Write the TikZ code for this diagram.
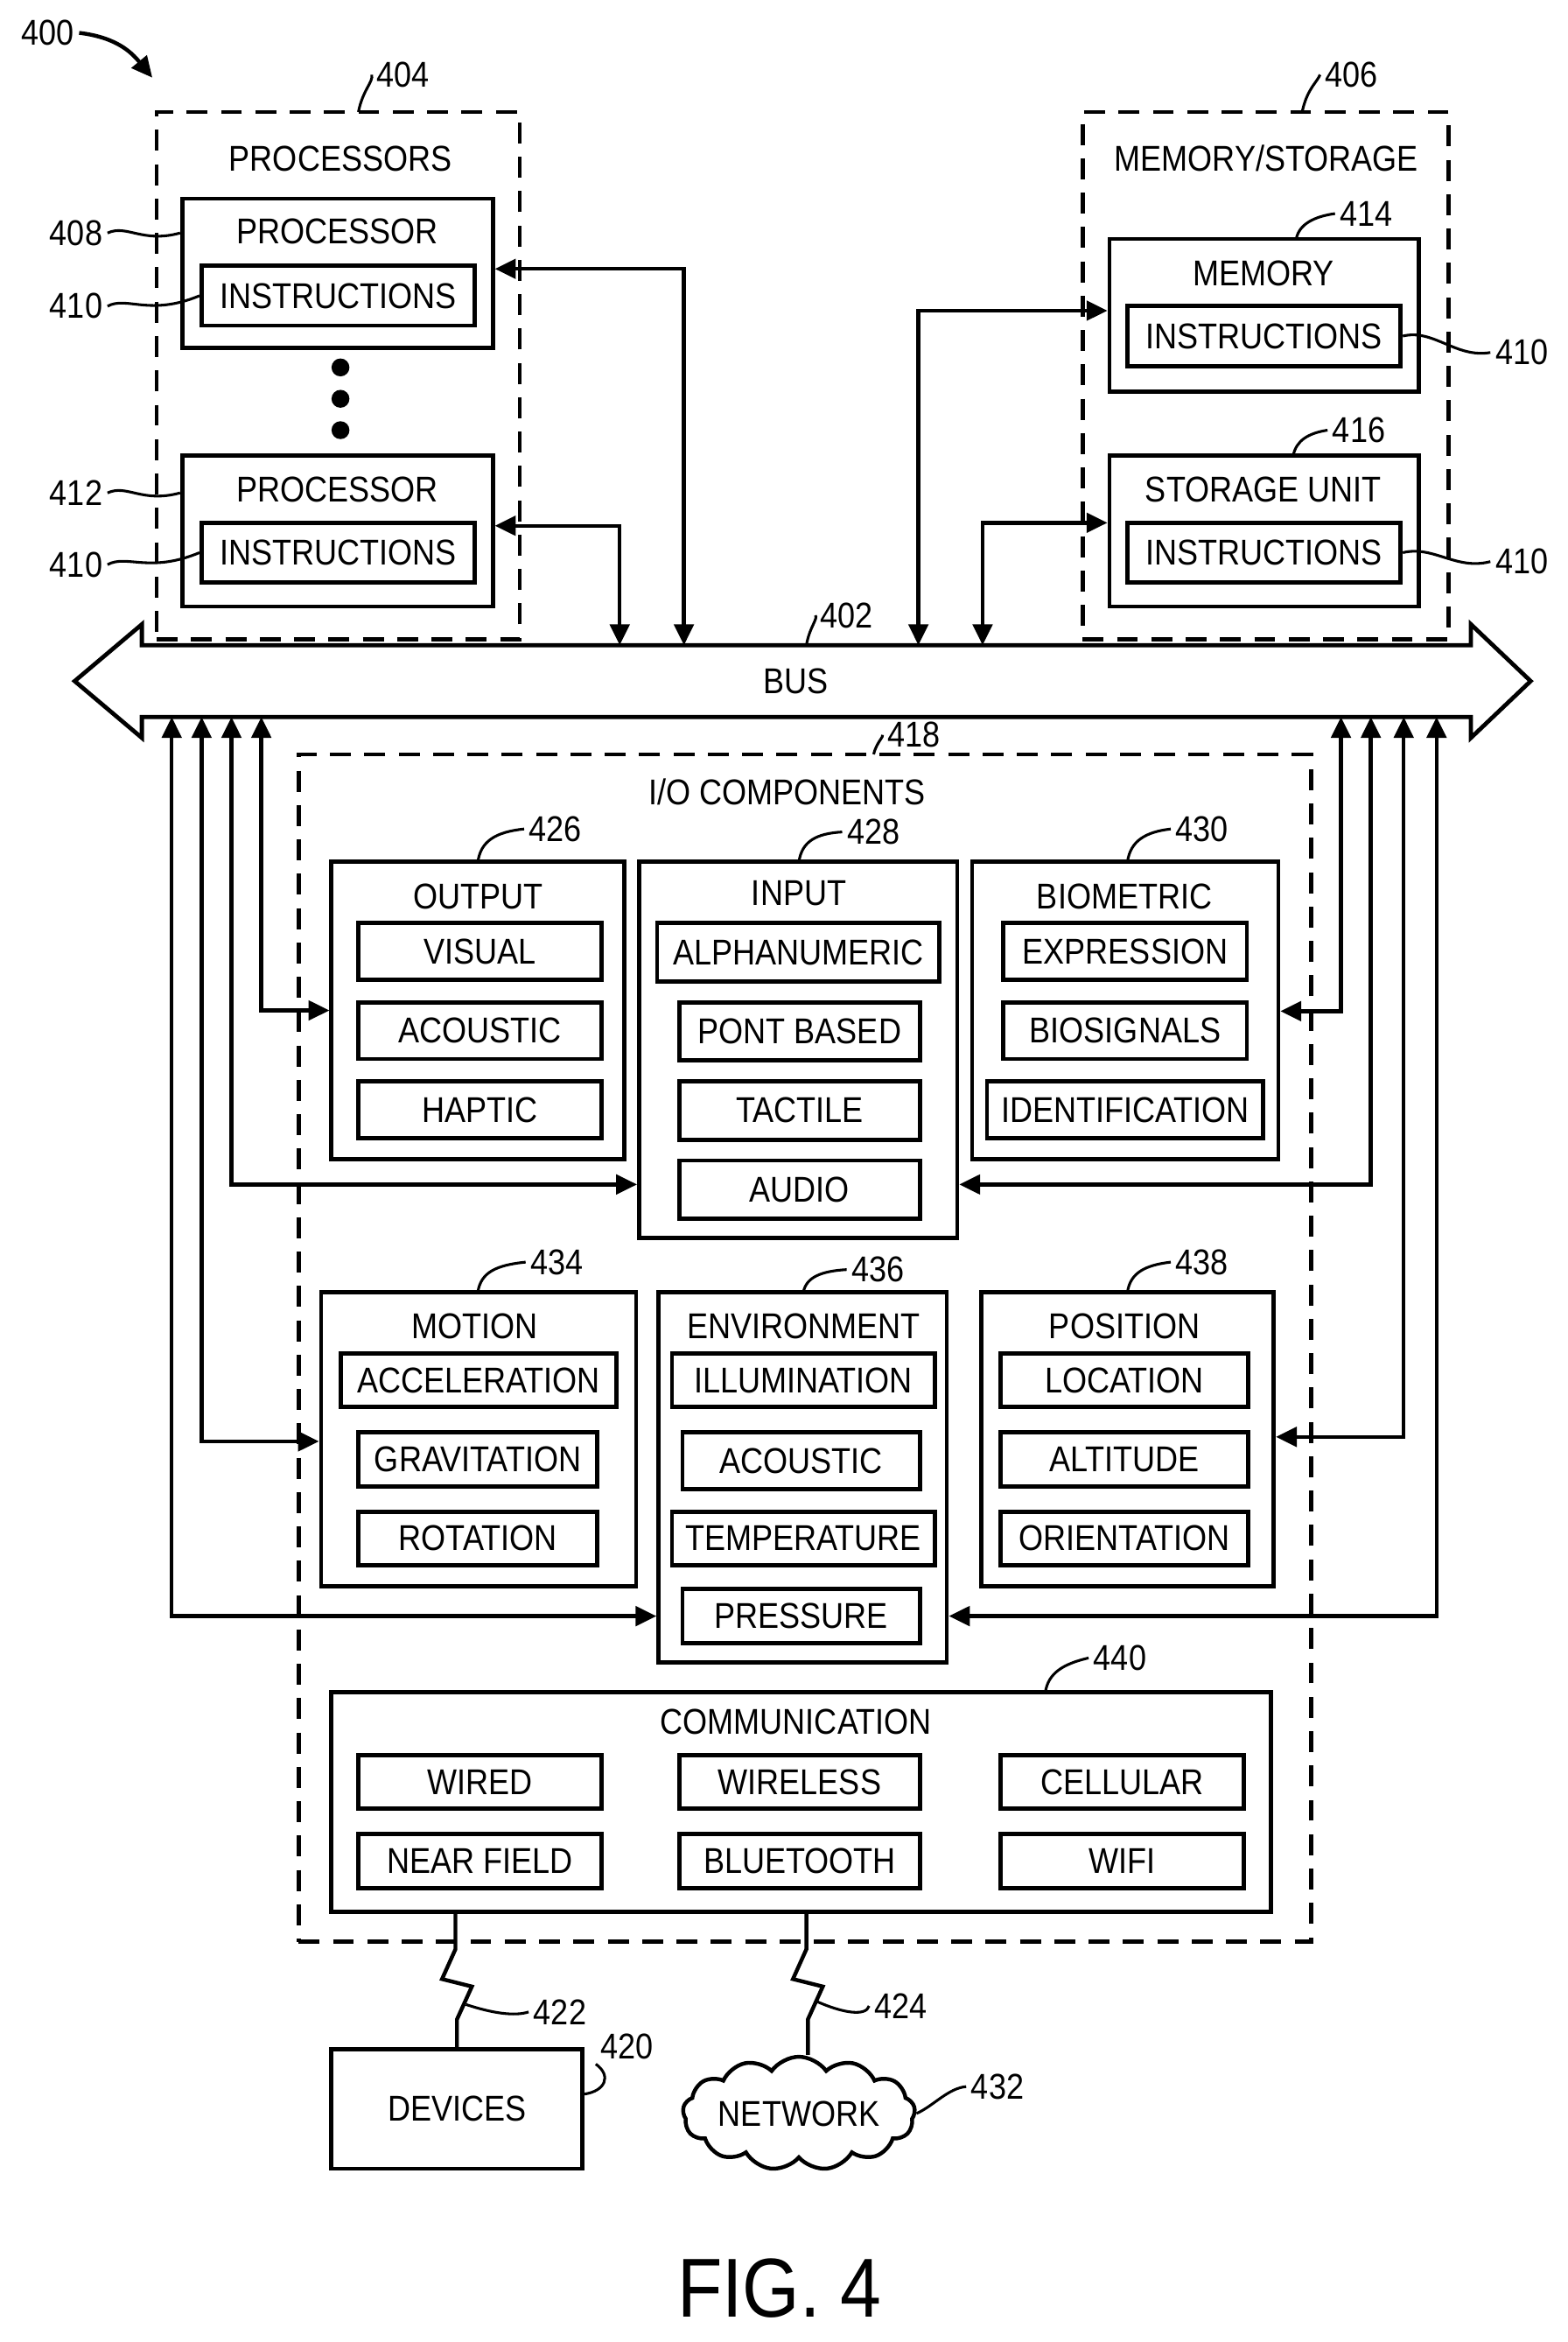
\documentclass[tikz,border=0pt]{standalone}
\usepackage{fontspec}
\setmainfont[FakeStretch=0.88]{Liberation Sans}
\usetikzlibrary{arrows.meta,shapes.symbols}
\newcommand\bx[7][box]{\node[#1,minimum width={(#5-#3)*0.5pt},minimum height={(#6-#4)*0.5pt}] (#2) at ({(#3+#5)/2},{(#4+#6)/2}) {#7};}
\begin{document}
\begin{tikzpicture}[x=0.5pt,y=-0.5pt,
  box/.style={draw,line width=1.4pt,inner sep=0pt,font=\fontsize{12}{12}\selectfont},
  dbox/.style={draw,line width=1.3pt,dash pattern=on 7pt off 4.5pt,inner sep=0pt},
  t/.style={font=\fontsize{12}{12}\selectfont,inner sep=0pt},
  lab/.style={font=\fontsize{12}{12}\selectfont,inner sep=1.5pt},
  lead/.style={line width=0.9pt},
  arr/.style={line width=1.3pt,{Triangle[length=7pt,width=6.5pt]}-{Triangle[length=7pt,width=6.5pt]}},
  tip/.style={line width=1.3pt,-{Triangle[length=7pt,width=6.5pt]}}]
\useasboundingbox (0,0) rectangle (1050,1568);
% 400
\node[lab] (n400) at (32,22) {400};
\coordinate (a400) at (102,52);
\draw[tip] (n400.east) .. controls (78,25) and (88,35) .. (a400);
% processors
\bx[dbox]{procs}{105}{75}{348}{428}{}
\node[t] (tprocs) at (228,106) {PROCESSORS};
\node[lab] (n404) at (270,50) {404};
\draw[lead] (240,75) .. controls (243,60) and (250,55) .. (n404.west);
\bx{p1}{122}{133}{330}{233}{}
\node[t] (tp1) at (226,155) {PROCESSOR};
\bx{i1}{135}{178}{318}{218}{INSTRUCTIONS}
\foreach \yy/\nm in {246/d1,267/d2,288/d3}{\node[circle,fill,inner sep=0pt,minimum size=6pt] (\nm) at (228,\yy) {};}
\bx{p2}{122}{305}{330}{406}{}
\node[t] (tp2) at (226,328) {PROCESSOR};
\bx{i2}{135}{350}{318}{390}{INSTRUCTIONS}
\node[lab,anchor=east] (n408) at (72,156) {408};
\node[lab,anchor=east] (n410a) at (72,205) {410};
\node[lab,anchor=east] (n412) at (72,330) {412};
\node[lab,anchor=east] (n410b) at (72,378) {410};
\draw[lead] (n408.east) .. controls (85,150) and (95,163) .. (p1.west |- 0,156);
\draw[lead] (n410a.east) .. controls (85,198) and (100,212) .. (i1.west);
\draw[lead] (n412.east) .. controls (85,324) and (95,337) .. (p2.west |- 0,330);
\draw[lead] (n410b.east) .. controls (85,371) and (100,384) .. (i2.west);
% memory/storage
\bx[dbox]{mems}{725}{75}{970}{428}{}
\node[t] (tmems) at (848,106) {MEMORY/STORAGE};
\node[lab] (n406) at (905,50) {406};
\draw[lead] (872,75) .. controls (875,60) and (882,55) .. (n406.west);
\bx{mem}{743}{160}{950}{262}{}
\node[t] (tmem) at (846,183) {MEMORY};
\bx{mi}{755}{205}{938}{245}{INSTRUCTIONS}
\node[lab] (n414) at (915,143) {414};
\draw[lead] (868,160) .. controls (870,150) and (880,145) .. (n414.west);
\bx{sto}{743}{305}{950}{406}{}
\node[t] (tsto) at (846,328) {STORAGE UNIT};
\bx{si}{755}{350}{938}{390}{INSTRUCTIONS}
\node[lab] (n416) at (910,288) {416};
\draw[lead] (866,305) .. controls (868,295) and (876,290) .. (n416.west);
\node[lab,anchor=west] (n410c) at (998,236) {410};
\node[lab,anchor=west] (n410d) at (998,376) {410};
\draw[lead] (mi.east) .. controls (960,220) and (975,240) .. (n410c.west);
\draw[lead] (si.east) .. controls (960,365) and (975,382) .. (n410d.west);
% bus
\draw[line width=1.4pt] (50,456) -- (95,418) -- (95,432) -- (985,432) -- (985,418) -- (1025,456) -- (985,494) -- (985,480) -- (95,480) -- (95,494) -- cycle;
\node[t] (tbus) at (533,456) {BUS};
\node[lab] (n402) at (567,412) {402};
\draw[lead] (540,432) .. controls (542,420) and (548,414) .. (n402.west);
% processor/memory connectors
\coordinate (b1) at (458,432); \coordinate (b2) at (415,432);
\coordinate (b3) at (615,432); \coordinate (b4) at (658,432);
\draw[arr] (p1.east |- 0,180) -| (b1);
\draw[arr] (p2.east |- 0,352) -| (b2);
\draw[arr] (mem.west |- 0,208) -| (b3);
\draw[arr] (sto.west |- 0,350) -| (b4);
% I/O components
\bx[dbox]{io}{200}{505}{878}{1300}{}
\node[t] (tio) at (527,530) {I/O COMPONENTS};
\node[lab] (n418) at (612,492) {418};
\draw[lead] (585,505) .. controls (587,497) and (592,493) .. (n418.west);
% output
\bx{out}{222}{577}{418}{776}{}
\node[t] (tout) at (320,600) {OUTPUT};
\bx{o1}{240}{618}{403}{656}{VISUAL}
\bx{o2}{240}{671}{403}{709}{ACOUSTIC}
\bx{o3}{240}{724}{403}{762}{HAPTIC}
\node[lab] (n426) at (372,555) {426};
\draw[lead] (320,577) .. controls (322,563) and (332,557) .. (n426.west);
% input
\bx{inp}{428}{577}{641}{829}{}
\node[t] (tinp) at (535,598) {INPUT};
\bx{in1}{440}{618}{629}{657}{ALPHANUMERIC}
\bx{in2}{455}{671}{616}{710}{PONT BASED}
\bx{in3}{455}{724}{616}{763}{TACTILE}
\bx{in4}{455}{777}{616}{816}{AUDIO}
\node[lab] (n428) at (585,557) {428};
\draw[lead] (535,577) .. controls (537,563) and (547,558) .. (n428.west);
% biometric
\bx{bio}{651}{577}{856}{776}{}
\node[t] (tbio) at (753,600) {BIOMETRIC};
\bx{bi1}{672}{618}{835}{656}{EXPRESSION}
\bx{bi2}{672}{671}{835}{709}{BIOSIGNALS}
\bx{bi3}{661}{724}{846}{762}{IDENTIFICATION}
\node[lab] (n430) at (805,555) {430};
\draw[lead] (755,577) .. controls (757,563) and (767,557) .. (n430.west);
% motion
\bx{mot}{215}{865}{426}{1062}{}
\node[t] (tmot) at (318,888) {MOTION};
\bx{m1}{228}{906}{413}{942}{ACCELERATION}
\bx{m2}{240}{959}{400}{995}{GRAVITATION}
\bx{m3}{240}{1012}{400}{1048}{ROTATION}
\node[lab] (n434) at (373,845) {434};
\draw[lead] (320,865) .. controls (322,852) and (332,847) .. (n434.west);
% environment
\bx{env}{441}{865}{634}{1113}{}
\node[t] (tenv) at (538,888) {ENVIRONMENT};
\bx{e1}{450}{906}{626}{942}{ILLUMINATION}
\bx{e2}{457}{959}{616}{997}{ACOUSTIC}
\bx{e3}{450}{1012}{626}{1048}{TEMPERATURE}
\bx{e4}{457}{1064}{616}{1100}{PRESSURE}
\node[lab] (n436) at (588,850) {436};
\draw[lead] (538,865) .. controls (540,855) and (550,851) .. (n436.west);
% position
\bx{pos}{657}{865}{853}{1062}{}
\node[t] (tpos) at (753,888) {POSITION};
\bx{ps1}{670}{906}{836}{942}{LOCATION}
\bx{ps2}{670}{959}{836}{995}{ALTITUDE}
\bx{ps3}{670}{1012}{836}{1048}{ORIENTATION}
\node[lab] (n438) at (805,845) {438};
\draw[lead] (755,865) .. controls (757,852) and (767,847) .. (n438.west);
% communication
\bx{com}{222}{1133}{851}{1280}{}
\node[t] (tcom) at (533,1153) {COMMUNICATION};
\bx{c1}{240}{1175}{403}{1211}{WIRED}
\bx{c2}{240}{1228}{403}{1264}{NEAR FIELD}
\bx{c3}{455}{1175}{616}{1211}{WIRELESS}
\bx{c4}{455}{1228}{616}{1264}{BLUETOOTH}
\bx{c5}{670}{1175}{833}{1211}{CELLULAR}
\bx{c6}{670}{1228}{833}{1264}{WIFI}
\node[lab] (n440) at (750,1110) {440};
\draw[lead] (700,1133) .. controls (702,1120) and (712,1114) .. (n440.west);
% IO connectors left
\coordinate (L1) at (175,480); \coordinate (L2) at (155,480);
\coordinate (L3) at (135,480); \coordinate (L4) at (115,480);
\draw[arr] (L1) |- (out.west);
\draw[arr] (L2) |- (inp.west |- 0,793);
\draw[arr] (L3) |- (mot.west |- 0,965);
\draw[arr] (L4) |- (env.west |- 0,1082);
% right
\coordinate (R1) at (898,480); \coordinate (R2) at (918,480);
\coordinate (R3) at (940,480); \coordinate (R4) at (962,480);
\draw[arr] (R1) |- (bio.east |- 0,677);
\draw[arr] (R2) |- (inp.east |- 0,793);
\draw[arr] (R3) |- (pos.east |- 0,962);
\draw[arr] (R4) |- (env.east |- 0,1082);
% devices & network
\bx{dev}{222}{1372}{390}{1452}{DEVICES}
\node[lab] (n420) at (420,1370) {420};
\draw[lead] (dev.east |- 0,1402) .. controls (405,1400) and (410,1390) .. (n420.south west);
\draw[line width=1.3pt] (com.south -| 305,0) -- (305,1305) -- (296,1325) -- (316,1330) -- (306,1352) -- (dev.north -| 306,0);
\node[lab] (n422) at (375,1347) {422};
\draw[lead] (312,1342) .. controls (330,1348) and (345,1350) .. (n422.west);
\node[cloud,draw,line width=1.3pt,cloud puffs=13,cloud puff arc=110,aspect=2.6,minimum width=155*0.5pt,minimum height=62*0.5pt,inner sep=0pt,font=\fontsize{12}{12}\selectfont] (net) at (535,1415) {NETWORK};
\draw[line width=1.3pt] (com.south -| 540,0) -- (540,1305) -- (531,1325) -- (551,1330) -- (541,1352) -- (net.north -| 541,0);
\node[lab] (n424) at (603,1343) {424};
\draw[lead] (547,1340) .. controls (565,1348) and (580,1350) .. (n424.west);
\node[lab] (n432) at (668,1397) {432};
\draw[lead] (net.east) .. controls (625,1410) and (635,1398) .. (n432.west);
\node[font=\fontsize{28}{28}\selectfont,inner sep=0pt] (fig) at (522,1532) {FIG. 4};
\end{tikzpicture}
\end{document}
